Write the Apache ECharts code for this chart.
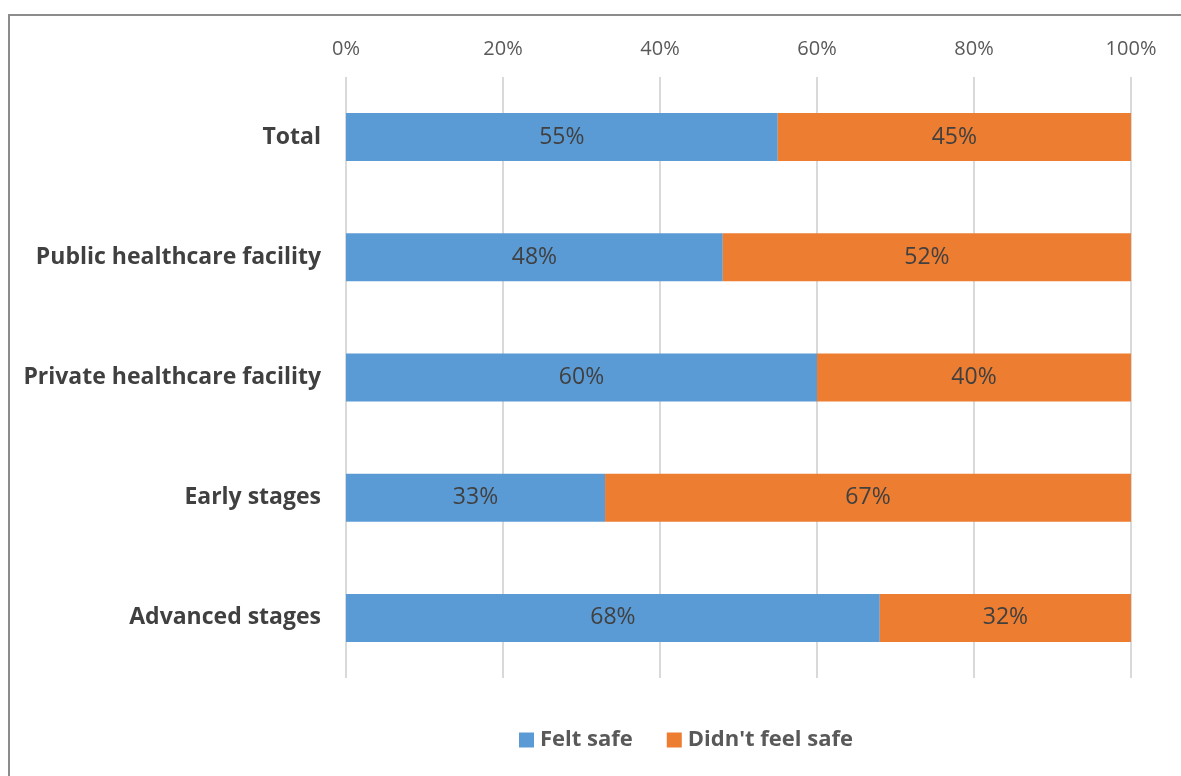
<!DOCTYPE html>
<html><head><meta charset="utf-8">
<script src="https://cdn.jsdelivr.net/npm/echarts@6/dist/echarts.min.js"></script>
<style>html,body{margin:0;padding:0;background:#fff}#c{width:1181px;height:776px}</style>
</head><body><div id="c"></div>
<script>
const categories = ['Total','Public healthcare facility','Private healthcare facility','Early stages','Advanced stages'];
const feltSafe = [55, 48, 60, 33, 68];
const notSafe = [45, 52, 40, 67, 32];
const seriesNames = ['Felt safe', "Didn't feel safe"];
const font = 'Open Sans';
const chart = echarts.init(document.getElementById('c'));
const lbl = {show:true, position:'inside', formatter:p=>p.value+'%', color:'#404040', fontSize:23, fontFamily:font};
chart.setOption({
  animation:false,
  graphic:[{type:'rect', shape:{x:9,y:15,width:1200,height:800}, style:{fill:'none', stroke:'#8c8c8c', lineWidth:2}}],
  grid:{left:346, right:50, top:77, height:601},
  legend:{top:724, left:514, itemWidth:15, itemHeight:15, itemGap:34, icon:'rect',
    textStyle:{fontSize:22, fontWeight:'bold', color:'#595959', fontFamily:font, padding:[0,0,0,1]}, data:seriesNames},
  xAxis:{type:'value', position:'top', min:0, max:100, interval:20,
    axisLabel:{formatter:'{value}%', fontSize:20, color:'#595959', fontFamily:font, margin:18},
    axisLine:{show:false}, axisTick:{show:false},
    splitLine:{lineStyle:{color:'#d9d9d9', width:2}}},
  yAxis:{type:'category', inverse:true, data:categories,
    axisLabel:{fontSize:23, fontWeight:'bold', color:'#404040', fontFamily:font, margin:25},
    axisLine:{show:false}, axisTick:{show:false}},
  series:[
    {name:seriesNames[0], type:'bar', stack:'a', data:feltSafe, barWidth:48, itemStyle:{color:'#5B9BD5'}, label:lbl},
    {name:seriesNames[1], type:'bar', stack:'a', data:notSafe, barWidth:48, itemStyle:{color:'#ED7D31'}, label:lbl}
  ]
});
</script></body></html>
